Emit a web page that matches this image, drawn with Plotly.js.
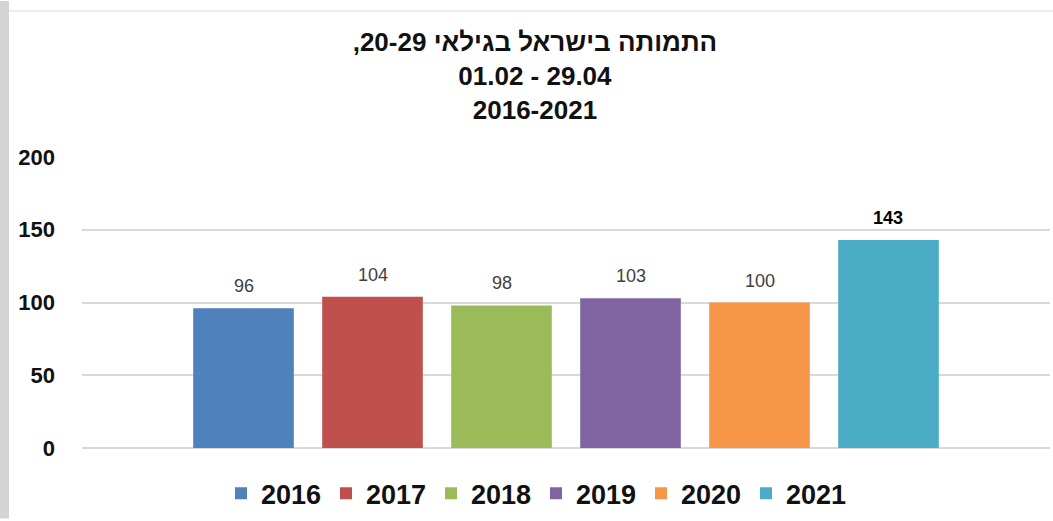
<!DOCTYPE html>
<html>
<head>
<meta charset="utf-8">
<script src="https://cdn.plot.ly/plotly-3.0.1.min.js"></script>
<style>html,body{margin:0;padding:0;background:#fff;}#chart{width:1053px;height:521px;}</style>
</head>
<body>
<div id="chart"></div>
<script>
// ---- data ----
const years = ["2016", "2017", "2018", "2019", "2020", "2021"];
const deaths = [96, 104, 98, 103, 100, 143];
const colors = ["#4F81BD", "#C0504D", "#9BBB59", "#8064A2", "#F79646", "#4BACC6"];
const titleLines = ["התמותה בישראל בגילאי 20-29,\u200F", "01.02 - 29.04", "2016-2021"];
const yTicks = [0, 50, 100, 150, 200];

const M = {l: 82, r: 3, t: 157, b: 71};
const W = 1053, H = 521;
const pw = W - M.l - M.r, ph = H - M.t - M.b;

const traces = years.map((y, i) => ({
  type: "bar",
  name: y,
  x: [y],
  y: [deaths[i]],
  marker: {color: colors[i]},
  hoverinfo: "x+y"
}));

// category axis: annotation x uses the category serial index
const annotations = years.map((y, i) => ({
  x: i, y: deaths[i], xref: "x", yref: "y",
  text: String(deaths[i]),
  showarrow: false,
  xanchor: "center",
  yanchor: "middle",
  yshift: 22,
  font: {family: "Liberation Sans, Arial, sans-serif", size: 18,
         color: i === years.length - 1 ? "#000000" : "#404040",
         weight: i === years.length - 1 ? 700 : 400}
}));

const layout = {
  width: W, height: H,
  margin: M,
  paper_bgcolor: "#ffffff",
  plot_bgcolor: "#ffffff",
  barmode: "overlay",
  bargap: 0.22,
  showlegend: true,
  title: {
    text: titleLines.join("<br>"),
    x: 0.508, xref: "container", xanchor: "center",
    y: 1 - 51 / H, yref: "container", yanchor: "top",
    font: {family: "Liberation Sans, Arial, sans-serif", size: 26, color: "#111111", weight: 700}
  },
  xaxis: {
    type: "category",
    range: [-1.252, 6.252],
    showticklabels: false,
    showgrid: false,
    zeroline: false,
    showline: false,
    ticks: "",
    fixedrange: true
  },
  yaxis: {
    range: [0, 200],
    tickvals: yTicks,
    ticktext: yTicks.map(String),
    showgrid: true,
    gridcolor: "#d9d9d9",
    gridwidth: 1.5,
    zeroline: true,
    zerolinecolor: "#d9d9d9",
    zerolinewidth: 1.5,
    showline: false,
    ticks: "",
    ticklabelstandoff: 26,
    tickfont: {family: "Liberation Sans, Arial, sans-serif", size: 22, color: "#111111", weight: 700},
    fixedrange: true
  },
  legend: {
    orientation: "h",
    x: (221 - M.l) / pw, xanchor: "left",
    y: -(496 - (H - M.b)) / ph, yanchor: "middle",
    font: {family: "Liberation Sans, Arial, sans-serif", size: 27, color: "#111111", weight: 700},
    entrywidth: 60,
    entrywidthmode: "pixels",
    bgcolor: "rgba(0,0,0,0)",
    itemclick: false, itemdoubleclick: false
  },
  annotations: annotations,
  shapes: [
    {type: "rect", xref: "paper", yref: "paper",
     x0: -M.l / pw, x1: (9 - M.l) / pw, y0: -M.b / ph, y1: 1 + M.t / ph,
     fillcolor: "#d4d4d4", line: {width: 0}, layer: "below"},
    {type: "line", xref: "paper", yref: "paper",
     x0: (9 - M.l) / pw, x1: 1 + M.r / pw, y0: 1 + (M.t - 10) / ph, y1: 1 + (M.t - 10) / ph,
     line: {color: "#ececec", width: 2}, layer: "below"}
  ]
};

Plotly.newPlot("chart", traces, layout, {displayModeBar: false});
</script>
</body>
</html>
